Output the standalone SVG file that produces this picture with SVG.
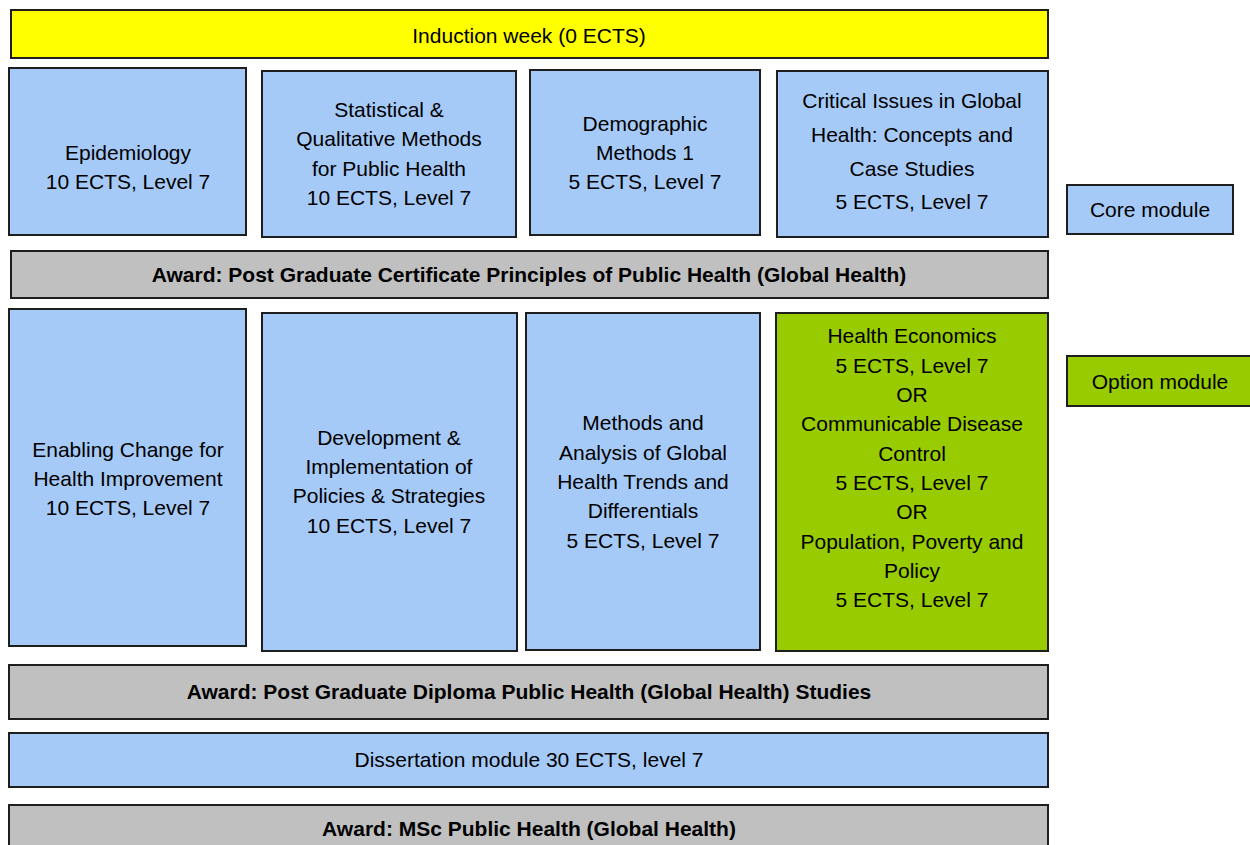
<svg xmlns="http://www.w3.org/2000/svg" width="1250" height="845" viewBox="0 0 1250 845">
<style>
rect{stroke:#1e1e1e;stroke-width:2}
.b{fill:#a6caf7}.g{fill:#c0c0c0}.y{fill:#ffff00}.o{fill:#99cc00}
text{font-family:"Liberation Sans",Arial,sans-serif;font-size:21px;fill:#000;text-anchor:middle}
.bold{font-weight:bold}
</style>
<rect width="1250" height="845" fill="#fff" style="stroke:none"/>
<g id="induction"><rect class="y" x="11" y="10" width="1037" height="48"/><text x="529" y="43">Induction week (0 ECTS)</text></g>
<g id="epidemiology"><rect class="b" x="9" y="68" width="237" height="167"/><text x="128" y="160">Epidemiology</text><text x="128" y="189">10 ECTS, Level 7</text></g>
<g id="statistical"><rect class="b" x="262" y="71" width="254" height="166"/><text x="389" y="117">Statistical &amp;</text><text x="389" y="146">Qualitative Methods</text><text x="389" y="176">for Public Health</text><text x="389" y="205">10 ECTS, Level 7</text></g>
<g id="demographic"><rect class="b" x="530" y="70" width="230" height="165"/><text x="645" y="131">Demographic</text><text x="645" y="160">Methods 1</text><text x="645" y="189">5 ECTS, Level 7</text></g>
<g id="critical"><rect class="b" x="777" y="71" width="271" height="166"/><text x="912" y="108">Critical Issues in Global</text><text x="912" y="142">Health: Concepts and</text><text x="912" y="176">Case Studies</text><text x="912" y="209">5 ECTS, Level 7</text></g>
<g id="core-legend"><rect class="b" x="1067" y="185" width="166" height="49"/><text x="1150" y="217">Core module</text></g>
<g id="award-cert"><rect class="g" x="11" y="251" width="1037" height="47"/><text class="bold" x="529" y="282">Award: Post Graduate Certificate Principles of Public Health (Global Health)</text></g>
<g id="enabling"><rect class="b" x="9" y="309" width="237" height="337"/><text x="128" y="457">Enabling Change for</text><text x="128" y="486">Health Improvement</text><text x="128" y="515">10 ECTS, Level 7</text></g>
<g id="development"><rect class="b" x="262" y="313" width="255" height="338"/><text x="389" y="445">Development &amp;</text><text x="389" y="474">Implementation of</text><text x="389" y="503">Policies &amp; Strategies</text><text x="389" y="533">10 ECTS, Level 7</text></g>
<g id="methods"><rect class="b" x="526" y="313" width="234" height="337"/><text x="643" y="430">Methods and</text><text x="643" y="460">Analysis of Global</text><text x="643" y="489">Health Trends and</text><text x="643" y="518">Differentials</text><text x="643" y="548">5 ECTS, Level 7</text></g>
<g id="options"><rect class="o" x="776" y="313" width="272" height="338"/><text x="912" y="343">Health Economics</text><text x="912" y="373">5 ECTS, Level 7</text><text x="912" y="402">OR</text><text x="912" y="431">Communicable Disease</text><text x="912" y="461">Control</text><text x="912" y="490">5 ECTS, Level 7</text><text x="912" y="519">OR</text><text x="912" y="549">Population, Poverty and</text><text x="912" y="578">Policy</text><text x="912" y="607">5 ECTS, Level 7</text></g>
<g id="option-legend"><rect class="o" x="1067" y="356" width="190" height="50"/><text x="1160" y="389">Option module</text></g>
<g id="award-diploma"><rect class="g" x="9" y="665" width="1039" height="54"/><text class="bold" x="529" y="699">Award: Post Graduate Diploma Public Health (Global Health) Studies</text></g>
<g id="dissertation"><rect class="b" x="9" y="733" width="1039" height="54"/><text x="529" y="767">Dissertation module 30 ECTS, level 7</text></g>
<g id="award-msc"><rect class="g" x="9" y="805" width="1039" height="60"/><text class="bold" x="529" y="836">Award: MSc Public Health (Global Health)</text></g>
<g id="connectors"></g>
</svg>
